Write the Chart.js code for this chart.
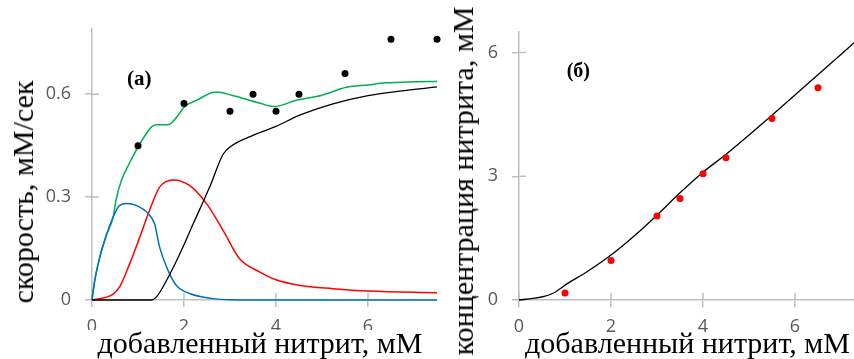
<!DOCTYPE html>
<html>
<head>
<meta charset="utf-8">
<script src="https://cdn.jsdelivr.net/npm/chart.js@4.4.0/dist/chart.umd.min.js"></script>
<style>
    html, body { margin: 0; padding: 0; background: #fff; overflow: hidden; }
    #wrap { position: relative; width: 854px; height: 359px; overflow: hidden; }
    canvas { position: absolute; top: 0; }
    .t { position: absolute; font-family: "Liberation Serif", "Times New Roman", serif; font-size: 30px; color: #000; white-space: nowrap; }
    .rot { line-height: 30px; transform: translate(-50%, -50%) rotate(-90deg); }
    .tag { font-weight: bold; }
</style>
</head>
<body>
<div id="wrap">
    <canvas id="rateChart" width="445" height="359" style="left:0"></canvas>
    <canvas id="concChart" width="430" height="359" style="left:440px"></canvas>

    <div class="t rot" style="left:23px; top:191.5px;">скорость, мМ/сек</div>
    <div class="t" style="left:80px; top:330px; width:360px; height:29px; line-height:26px; background:#fff; text-align:center;">добавленный нитрит, мМ</div>
    <div class="t tag" style="left:127px; top:68px; font-size:21px; line-height:21px;">(a)</div>

    <div class="t rot" style="left:463px; top:181px;">концентрация нитрита, мМ</div>
    <div class="t" style="left:687.5px; top:333px; line-height:20px; transform:translateX(-50%);">добавленный нитрит, мМ</div>
    <div class="t tag" style="left:566.7px; top:60.3px; font-size:20px; line-height:20px;">(б)</div>
</div>
<script>
// (a) rates vs added nitrite
const xTicks = [0, 2, 4, 6];
const rateTicks = [0, 0.3, 0.6];

const dotX = [1, 2, 3, 3.5, 4, 4.5, 5.5, 6.5, 7.5];
const dotY = [0.45, 0.573, 0.55, 0.60, 0.55, 0.60, 0.66, 0.76, 0.76];

const greenX = [0, 0.06, 0.17, 0.31, 0.46, 0.52, 0.64, 0.8, 1.0, 1.29, 1.4, 1.65, 1.9, 2.0, 2.27, 2.7, 3.06, 3.64, 3.96, 4.44, 5.0, 5.53, 6.0, 6.4, 7.0, 7.5];
const greenY = [0, 0.057, 0.125, 0.188, 0.242, 0.29, 0.349, 0.395, 0.446, 0.504, 0.511, 0.511, 0.543, 0.562, 0.582, 0.606, 0.596, 0.574, 0.564, 0.582, 0.597, 0.62, 0.627, 0.633, 0.636, 0.637];

const blueX = [0, 0.06, 0.17, 0.31, 0.46, 0.6, 0.75, 0.96, 1.22, 1.36, 1.47, 1.65, 1.83, 2.12, 2.63, 3.0, 4, 5, 6, 7.5];
const blueY = [0, 0.057, 0.125, 0.188, 0.242, 0.276, 0.281, 0.276, 0.252, 0.222, 0.154, 0.087, 0.043, 0.019, 0.004, 0.001, 0, 0, 0, 0];

const redX = [0, 0.46, 0.6, 0.82, 1.04, 1.25, 1.47, 1.76, 2.12, 2.49, 2.85, 3.21, 3.64, 4.0, 4.5, 5.24, 6.0, 7.5];
const redY = [0, 0.017, 0.038, 0.106, 0.184, 0.261, 0.329, 0.35, 0.334, 0.281, 0.203, 0.12, 0.082, 0.059, 0.043, 0.033, 0.026, 0.021];

const blackX = [0, 1.29, 1.4, 1.62, 1.91, 2.2, 2.56, 2.85, 3.0, 3.5, 4.0, 4.5, 5.24, 6.0, 6.69, 7.5];
const blackY = [0, 0, 0.009, 0.057, 0.135, 0.222, 0.33, 0.425, 0.446, 0.48, 0.506, 0.538, 0.572, 0.596, 0.609, 0.621];

// (б) nitrite concentration vs added nitrite
const concTicks = [0, 3, 6];
const concX = [0, 0.3, 0.55, 0.75, 1.04, 1.47, 2.0, 2.49, 3.01, 3.5, 4.0, 4.51, 5.49, 6.03, 7.5];
const concY = [0, 0.04, 0.09, 0.17, 0.39, 0.68, 1.09, 1.54, 2.07, 2.6, 3.1, 3.54, 4.47, 5.0, 6.45];
const concDotX = [1, 2, 3, 3.5, 4, 4.5, 5.5, 6.5];
const concDotY = [0.17, 0.96, 2.04, 2.46, 3.06, 3.45, 4.40, 5.15];

const axisGray = '#bfbfbf';
const tickFont = { family: '"Open Sans", sans-serif', size: 18 };
const tickColor = '#595959';

function pts(xs, ys) {
    return xs.map((x, i) => ({ x: x, y: ys[i] }));
}

function curve(xs, ys, color, width) {
    return {
        data: pts(xs, ys),
        borderColor: color,
        borderWidth: width || 1.5,
        pointRadius: 0,
        fill: false,
        clip: 6,
        cubicInterpolationMode: 'monotone'
    };
}

function dots(xs, ys, color) {
    return {
        data: pts(xs, ys),
        showLine: false,
        pointRadius: 3.5,
        pointBackgroundColor: color,
        pointBorderWidth: 0,
        clip: 6
    };
}

// short tick marks on the plot side of each axis (reference ticks cross the axis)
const innerTicks = {
    id: 'innerTicks',
    beforeDatasetsDraw(chart) {
        const ctx = chart.ctx;
        const xs = chart.scales.x, ys = chart.scales.y;
        ctx.save();
        ctx.strokeStyle = axisGray;
        ctx.lineWidth = 1.5;
        ctx.beginPath();
        xs.ticks.forEach(t => {
            const px = xs.getPixelForValue(t.value);
            ctx.moveTo(px, xs.top - 7);
            ctx.lineTo(px, xs.top);
        });
        ys.ticks.forEach(t => {
            const py = ys.getPixelForValue(t.value);
            ctx.moveTo(ys.right, py);
            ctx.lineTo(ys.right + 7, py);
        });
        ctx.stroke();
        ctx.restore();
    }
};

function axes(xMax, yMax, yTicks, yWidth) {
    const common = {
        type: 'linear',
        min: 0,
        grid: { display: true, drawOnChartArea: false, drawTicks: true, tickLength: 7, color: axisGray, lineWidth: 1.5 },
        border: { display: true, color: axisGray, width: 1.5 },
        title: { display: false }
    };
    return {
        x: Object.assign({}, common, {
            max: xMax,
            afterBuildTicks: s => { s.ticks = xTicks.map(v => ({ value: v })); },
            afterFit: s => { s.height = 59; },
            ticks: { padding: 9, font: tickFont, color: tickColor, maxRotation: 0, callback: v => String(v) }
        }),
        y: Object.assign({}, common, {
            max: yMax,
            afterBuildTicks: s => { s.ticks = yTicks.map(v => ({ value: v })); },
            afterFit: s => { s.width = yWidth; },
            ticks: { padding: 14, font: tickFont, color: tickColor, callback: v => String(v) }
        })
    };
}

const baseOptions = {
    responsive: false,
    animation: false,
    plugins: { legend: { display: false }, tooltip: { enabled: false } }
};

new Chart(document.getElementById('rateChart').getContext('2d'), {
    type: 'line',
    data: {
        datasets: [
            dots(dotX, dotY, '#000'),
            curve(blackX, blackY, '#000', 1.3),
            curve(blueX, blueY, '#0070c0'),
            curve(redX, redY, '#ff0000'),
            curve(greenX, greenY, '#00b050')
        ]
    },
    options: Object.assign({}, baseOptions, {
        layout: { padding: { top: 29, right: 8, left: 0, bottom: 0 } },
        scales: axes(7.5, 0.79, rateTicks, 92)
    }),
    plugins: [innerTicks]
});

new Chart(document.getElementById('concChart').getContext('2d'), {
    type: 'line',
    data: {
        datasets: [
            dots(concDotX, concDotY, '#ff0000'),
            curve(concX, concY, '#000', 1.3)
        ]
    },
    options: Object.assign({}, baseOptions, {
        layout: { padding: { top: 32, right: 6, left: 0, bottom: 0 } },
        scales: axes(7.5, 6.5, concTicks, 79)
    }),
    plugins: [innerTicks]
});
</script>
</body>
</html>
